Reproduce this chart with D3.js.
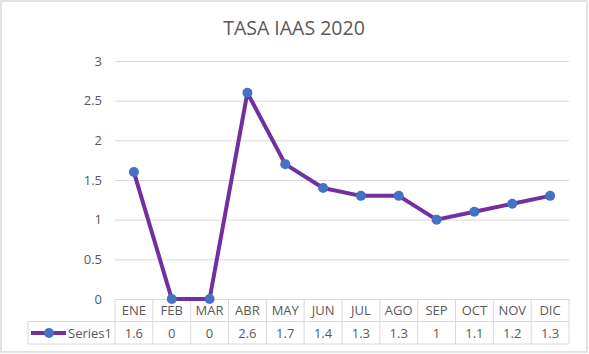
<!DOCTYPE html>
<html>
<head>
<meta charset="utf-8">
<script src="https://cdn.jsdelivr.net/npm/d3@7"></script>
<style>
  body { margin: 0; background: #fff; }
  svg { display: block; font-family: "Open Sans", "Noto Sans", sans-serif; }
</style>
</head>
<body>
<svg id="chart" width="589" height="354"></svg>
<script>
var months = ["ENE", "FEB", "MAR", "ABR", "MAY", "JUN", "JUL", "AGO", "SEP", "OCT", "NOV", "DIC"];
var series1 = [1.6, 0, 0, 2.6, 1.7, 1.4, 1.3, 1.3, 1, 1.1, 1.2, 1.3];
var yTicks = [0, 0.5, 1, 1.5, 2, 2.5, 3];
var seriesName = "Series1";
var title = "TASA IAAS 2020";

var svg = d3.select("#chart");
var gridColor = "#d9d9d9";
var textColor = "#595959";

// outer frame
svg.append("rect")
    .attr("x", 1).attr("y", 1)
    .attr("width", 586).attr("height", 351)
    .attr("fill", "#fff")
    .attr("stroke", "#d9d9d9")
    .attr("stroke-width", 1.5);

svg.append("text")
    .attr("x", 294).attr("y", 35)
    .attr("text-anchor", "middle")
    .attr("font-size", 19.5)
    .attr("fill", textColor)
    .text(title);

var x = d3.scaleBand().domain(months).range([115, 569]);
var y = d3.scaleLinear().domain([0, 3]).range([299, 61]);

// gridlines + y labels
var yAxis = svg.append("g")
    .attr("transform", "translate(115,0)")
    .call(d3.axisLeft(y).tickValues(yTicks).tickSize(-(569 - 115)).tickPadding(13)
        .tickFormat(function(d) { return d; }));
yAxis.select(".domain").remove();
yAxis.selectAll(".tick line").attr("stroke", gridColor);
yAxis.selectAll(".tick text")
    .attr("fill", textColor)
    .attr("font-size", 13)
    .attr("font-family", "Open Sans, sans-serif");

// data table
var rowTop = 299, rowMid = 321.5, rowBot = 344, legendLeft = 28;
var table = svg.append("g").attr("stroke", gridColor).attr("stroke-width", 1);
table.append("line").attr("x1", legendLeft).attr("x2", 569).attr("y1", rowMid).attr("y2", rowMid);
table.append("line").attr("x1", legendLeft).attr("x2", 569).attr("y1", rowBot).attr("y2", rowBot);
table.append("line").attr("x1", legendLeft).attr("x2", legendLeft).attr("y1", rowMid).attr("y2", rowBot);
table.selectAll("line.v").data(months.concat(["end"])).enter().append("line")
    .attr("x1", function(d) { return d === "end" ? 569 : x(d); })
    .attr("x2", function(d) { return d === "end" ? 569 : x(d); })
    .attr("y1", rowTop).attr("y2", rowBot);

svg.selectAll("text.month").data(months).enter().append("text")
    .attr("x", function(d) { return x(d) + x.bandwidth() / 2; })
    .attr("y", 315)
    .attr("text-anchor", "middle")
    .attr("font-size", 13)
    .attr("fill", textColor)
    .text(function(d) { return d; });

svg.selectAll("text.val").data(series1).enter().append("text")
    .attr("x", function(d, i) { return x(months[i]) + x.bandwidth() / 2; })
    .attr("y", 338)
    .attr("text-anchor", "middle")
    .attr("font-size", 13)
    .attr("fill", textColor)
    .text(function(d) { return d; });

// legend key
svg.append("line")
    .attr("x1", 31).attr("x2", 66).attr("y1", 333).attr("y2", 333)
    .attr("stroke", "#7030a0").attr("stroke-width", 4);
svg.append("circle").attr("cx", 49).attr("cy", 333).attr("r", 5).attr("fill", "#4472c4");
svg.append("text")
    .attr("x", 68).attr("y", 338)
    .attr("font-size", 13)
    .attr("fill", textColor)
    .text(seriesName);

// line + markers
var line = d3.line()
    .x(function(d, i) { return x(months[i]) + x.bandwidth() / 2; })
    .y(function(d) { return y(d); });

svg.append("path")
    .datum(series1)
    .attr("d", line)
    .attr("fill", "none")
    .attr("stroke", "#7030a0")
    .attr("stroke-width", 4)
    .attr("stroke-linejoin", "round");

svg.selectAll("circle.pt").data(series1).enter().append("circle")
    .attr("cx", function(d, i) { return x(months[i]) + x.bandwidth() / 2; })
    .attr("cy", function(d) { return y(d); })
    .attr("r", 5)
    .attr("fill", "#4472c4");
</script>
</body>
</html>
